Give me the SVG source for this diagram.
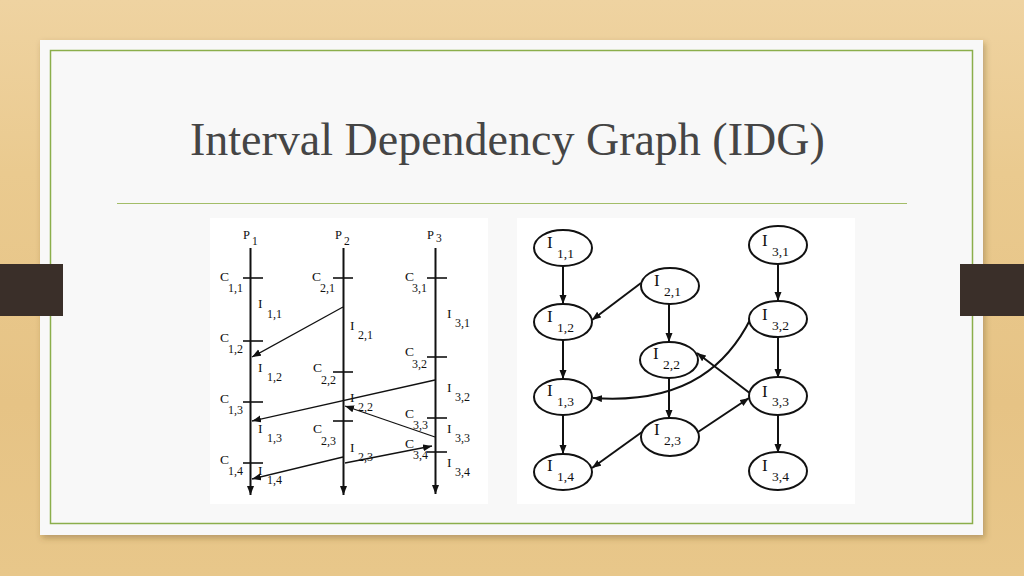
<svg xmlns="http://www.w3.org/2000/svg" width="1024" height="576" viewBox="0 0 1024 576">
<defs>
<linearGradient id="wood" x1="0" y1="0" x2="0" y2="1">
<stop offset="0" stop-color="#EFD3A1"/>
<stop offset="0.3" stop-color="#EACA8F"/>
<stop offset="0.7" stop-color="#E6C385"/>
<stop offset="1" stop-color="#E8C78A"/>
</linearGradient>
<filter id="sh" x="-5%" y="-5%" width="110%" height="115%">
<feDropShadow dx="2" dy="3" stdDeviation="3" flood-color="#5a4020" flood-opacity="0.35"/>
</filter>
<marker id="ah" markerWidth="10" markerHeight="8" refX="9" refY="3.5" orient="auto" markerUnits="userSpaceOnUse">
<path d="M0,0 L9,3.5 L0,7 z" fill="#111"/>
</marker>
</defs>
<style>
.t{font-family:"Liberation Serif","Times New Roman",serif;fill:#111}
.c{font-size:13.5px}
.s{font-size:12px}
.gi{font-size:17px}
.gs{font-size:13.5px}
.proc{stroke:#111;stroke-width:2;fill:none}
.tick{stroke:#111;stroke-width:1.6}
.msg{stroke:#111;stroke-width:1.3;fill:none}
.node ellipse{fill:#fff;stroke:#111;stroke-width:2}
.edge{stroke:#111;stroke-width:2;fill:none}
</style>
<rect x="0" y="0" width="1024" height="576" fill="url(#wood)"/>
<rect x="40" y="40" width="943" height="495" fill="#F8F8F8" filter="url(#sh)"/>
<rect x="50.5" y="50.5" width="922" height="473" fill="none" stroke="#8BAE4B" stroke-width="1.5"/>
<rect x="0" y="264" width="63" height="52" fill="#3A2F29"/>
<rect x="960" y="264" width="64" height="52" fill="#3A2F29"/>
<text x="190" y="155" font-family="'Liberation Serif','Times New Roman',serif" font-size="46" fill="#454545">Interval Dependency Graph (IDG)</text>
<line x1="117" y1="203.5" x2="907" y2="203.5" stroke="#A3BD68" stroke-width="1"/>

<g id="space-time-diagram">
<rect x="210" y="218" width="278" height="286" fill="#FFFFFF"/>
<g id="processes">
<line class="proc" x1="250.5" y1="248" x2="250.5" y2="495" marker-end="url(#ah)"/>
<line class="proc" x1="343.5" y1="248" x2="343.5" y2="495" marker-end="url(#ah)"/>
<line class="proc" x1="435.5" y1="248" x2="435.5" y2="494" marker-end="url(#ah)"/>
<text class="t" x="243" y="239" font-size="12.5">P</text><text class="t" x="252" y="245" font-size="11.5">1</text>
<text class="t" x="335" y="239" font-size="12.5">P</text><text class="t" x="344" y="245" font-size="11.5">2</text>
<text class="t" x="427" y="239" font-size="12.5">P</text><text class="t" x="436" y="242" font-size="11.5">3</text>
</g>
<g id="ticks">
<line class="tick" x1="243" y1="278" x2="263" y2="278"/>
<line class="tick" x1="243" y1="341" x2="263" y2="341"/>
<line class="tick" x1="243" y1="402" x2="263" y2="402"/>
<line class="tick" x1="243" y1="463" x2="263" y2="463"/>
<line class="tick" x1="333" y1="278" x2="353" y2="278"/>
<line class="tick" x1="333" y1="372" x2="353" y2="372"/>
<line class="tick" x1="333" y1="421" x2="353" y2="421"/>
<line class="tick" x1="427" y1="278" x2="447" y2="278"/>
<line class="tick" x1="427" y1="357" x2="447" y2="357"/>
<line class="tick" x1="427" y1="418" x2="447" y2="418"/>
<line class="tick" x1="427" y1="452" x2="447" y2="452"/>
</g>
<g id="p1-labels">
<text class="t c" x="220" y="281">C</text><text class="t s" x="228" y="292">1,1</text>
<text class="t c" x="258" y="308">I</text><text class="t s" x="267" y="318">1,1</text>
<text class="t c" x="220" y="342">C</text><text class="t s" x="228" y="353">1,2</text>
<text class="t c" x="258" y="372">I</text><text class="t s" x="267" y="381">1,2</text>
<text class="t c" x="220" y="403">C</text><text class="t s" x="228" y="414">1,3</text>
<text class="t c" x="258" y="433">I</text><text class="t s" x="267" y="442">1,3</text>
<text class="t c" x="220" y="464">C</text><text class="t s" x="228" y="475">1,4</text>
<text class="t c" x="258" y="475">I</text><text class="t s" x="267" y="484">1,4</text>
</g>
<g id="p2-labels">
<text class="t c" x="312" y="281">C</text><text class="t s" x="320" y="292">2,1</text>
<text class="t c" x="350" y="330">I</text><text class="t s" x="358" y="339">2,1</text>
<text class="t c" x="313" y="372">C</text><text class="t s" x="321" y="384">2,2</text>
<text class="t c" x="350" y="402">I</text><text class="t s" x="358" y="411">2,2</text>
<text class="t c" x="313" y="433">C</text><text class="t s" x="321" y="445">2,3</text>
<text class="t c" x="350" y="452">I</text><text class="t s" x="358" y="461">2,3</text>
</g>
<g id="p3-labels">
<text class="t c" x="405" y="281">C</text><text class="t s" x="412" y="292">3,1</text>
<text class="t c" x="447" y="318">I</text><text class="t s" x="455" y="327">3,1</text>
<text class="t c" x="405" y="356">C</text><text class="t s" x="412" y="368">3,2</text>
<text class="t c" x="447" y="392">I</text><text class="t s" x="455" y="401">3,2</text>
<text class="t c" x="405" y="418">C</text><text class="t s" x="413" y="429">3,3</text>
<text class="t c" x="447" y="433">I</text><text class="t s" x="455" y="442">3,3</text>
<text class="t c" x="405" y="448">C</text><text class="t s" x="413" y="459">3,4</text>
<text class="t c" x="447" y="467">I</text><text class="t s" x="455" y="476">3,4</text>
</g>
<g id="messages">
<line class="msg" x1="343" y1="307" x2="252" y2="357" marker-end="url(#ah)"/>
<line class="msg" x1="435" y1="380" x2="252" y2="421" marker-end="url(#ah)"/>
<line class="msg" x1="435" y1="437" x2="345" y2="406" marker-end="url(#ah)"/>
<line class="msg" x1="343" y1="457" x2="252" y2="479" marker-end="url(#ah)"/>
<line class="msg" x1="345" y1="463" x2="432" y2="446" marker-end="url(#ah)"/>
</g>
</g>

<g id="idg">
<rect x="517" y="218" width="338" height="286" fill="#FFFFFF"/>
<g id="connectors">
<line class="edge" x1="563" y1="266" x2="563" y2="304" marker-end="url(#ah)"/>
<line class="edge" x1="563" y1="340" x2="563" y2="379" marker-end="url(#ah)"/>
<line class="edge" x1="563" y1="415" x2="563" y2="454" marker-end="url(#ah)"/>
<line class="edge" x1="641" y1="283" x2="592" y2="320" marker-end="url(#ah)"/>
<line class="edge" x1="669" y1="304" x2="669" y2="342" marker-end="url(#ah)"/>
<line class="edge" x1="669" y1="378" x2="669" y2="419" marker-end="url(#ah)"/>
<line class="edge" x1="642" y1="432" x2="592" y2="468" marker-end="url(#ah)"/>
<line class="edge" x1="698" y1="432" x2="749" y2="398" marker-end="url(#ah)"/>
<line class="edge" x1="751" y1="394" x2="697" y2="353" marker-end="url(#ah)"/>
<path class="edge" d="M751,318 C730,360 690,405 593,398" marker-end="url(#ah)"/>
<line class="edge" x1="778" y1="263" x2="778" y2="301" marker-end="url(#ah)"/>
<line class="edge" x1="778" y1="337" x2="778" y2="378" marker-end="url(#ah)"/>
<line class="edge" x1="778" y1="414" x2="778" y2="453" marker-end="url(#ah)"/>
</g>
<g id="n11" class="node"><ellipse cx="563" cy="248" rx="29" ry="18"/><text class="t gi" x="547" y="248">I</text><text class="t gs" x="557" y="258">1,1</text></g>
<g id="n12" class="node"><ellipse cx="563" cy="322" rx="29" ry="18"/><text class="t gi" x="547" y="322">I</text><text class="t gs" x="557" y="332">1,2</text></g>
<g id="n13" class="node"><ellipse cx="563" cy="397" rx="29" ry="18"/><text class="t gi" x="547" y="396">I</text><text class="t gs" x="557" y="406">1,3</text></g>
<g id="n14" class="node"><ellipse cx="563" cy="472" rx="29" ry="18"/><text class="t gi" x="547" y="471">I</text><text class="t gs" x="557" y="481">1,4</text></g>
<g id="n21" class="node"><ellipse cx="670" cy="286" rx="29" ry="18"/><text class="t gi" x="654" y="286">I</text><text class="t gs" x="664" y="296">2,1</text></g>
<g id="n22" class="node"><ellipse cx="669" cy="360" rx="29" ry="18"/><text class="t gi" x="653" y="359">I</text><text class="t gs" x="663" y="369">2,2</text></g>
<g id="n23" class="node"><ellipse cx="670" cy="437" rx="29" ry="19"/><text class="t gi" x="654" y="435">I</text><text class="t gs" x="664" y="445">2,3</text></g>
<g id="n31" class="node"><ellipse cx="778" cy="245" rx="29" ry="19"/><text class="t gi" x="762" y="246">I</text><text class="t gs" x="772" y="256">3,1</text></g>
<g id="n32" class="node"><ellipse cx="778" cy="319" rx="29" ry="18"/><text class="t gi" x="762" y="320">I</text><text class="t gs" x="772" y="330">3,2</text></g>
<g id="n33" class="node"><ellipse cx="778" cy="396" rx="29" ry="19"/><text class="t gi" x="762" y="397">I</text><text class="t gs" x="772" y="406">3,3</text></g>
<g id="n34" class="node"><ellipse cx="778" cy="471" rx="29" ry="19"/><text class="t gi" x="762" y="471">I</text><text class="t gs" x="772" y="481">3,4</text></g>
</g>
</svg>
